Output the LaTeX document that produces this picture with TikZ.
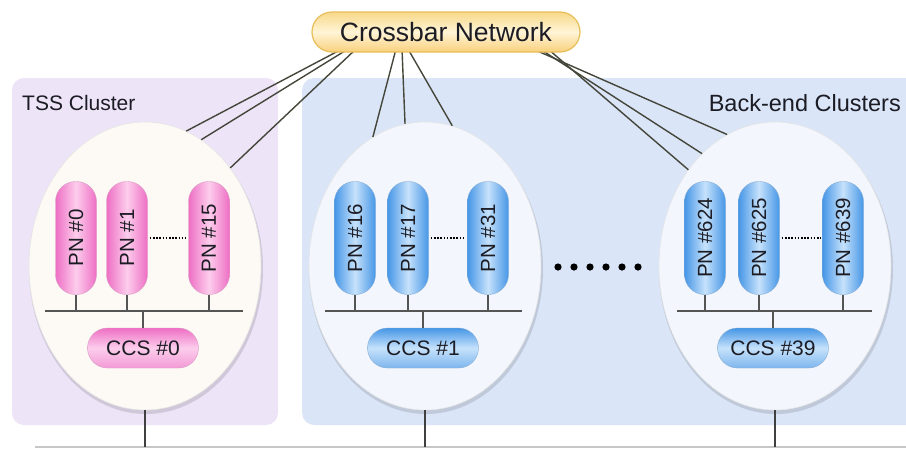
\documentclass[tikz,border=0pt]{standalone}
\usepackage{fontspec}
\setmainfont{Liberation Sans}
\usetikzlibrary{shapes.geometric,calc}
\definecolor{tssfill}{HTML}{EDE4F8}
\definecolor{befill}{HTML}{DAE5F8}
\definecolor{linecol}{HTML}{45463A}
\definecolor{buscol}{HTML}{555555}
\definecolor{txtcol}{HTML}{1C1C24}
\definecolor{pinkedge}{HTML}{EE6FC4}
\definecolor{pinkmid}{HTML}{FCCDEC}
\definecolor{blueedge}{HTML}{4696E6}
\definecolor{bluemid}{HTML}{C6E2FB}
\definecolor{goldedge}{HTML}{E8BE58}
\definecolor{goldtop}{HTML}{F8D98A}
\definecolor{goldmid}{HTML}{FFF4D6}
\definecolor{ellwarm}{HTML}{FDF9F4}
\definecolor{ellcool}{HTML}{F3F6FC}
\tikzset{
  clusterbox/.style={rectangle, rounded corners=12pt, inner sep=0pt, draw=none},
  clusterlabel/.style={text=txtcol, inner sep=0pt},
  cellipse/.style={ellipse, minimum width=232pt, minimum height=288pt, inner sep=0pt, draw=black!10, line width=0.6pt},
  cshadow/.style={ellipse, minimum width=234pt, minimum height=290pt, inner sep=0pt, fill=black, opacity=0.12, draw=none},
  pnpill/.style={rectangle, rounded corners=20pt, rotate=90, minimum width=113pt, minimum height=41pt, inner sep=0pt, text=txtcol, font=\fontsize{20.5pt}{22pt}\selectfont},
  pinkpn/.style={pnpill, left color=pinkedge, right color=pinkedge, middle color=pinkmid, draw=pinkedge!80!black!60},
  bluepn/.style={pnpill, left color=blueedge, right color=blueedge, middle color=bluemid, draw=blueedge!80!black!60},
  ccspill/.style={rectangle, rounded corners=20pt, minimum width=111pt, minimum height=40pt, inner sep=0pt, text=txtcol, font=\fontsize{21pt}{22pt}\selectfont},
  pinkccs/.style={ccspill, top color=pinkedge, bottom color=pinkedge!70, middle color=pinkmid, draw=pinkedge!80!black!60},
  blueccs/.style={ccspill, top color=blueedge, bottom color=blueedge!70, middle color=bluemid, draw=blueedge!80!black!60},
  xbar/.style={rectangle, rounded corners=20pt, minimum width=268pt, minimum height=40pt, inner sep=0pt, top color=goldtop, bottom color=goldtop!90!orange, middle color=goldmid, draw=goldedge, line width=1.2pt, text=txtcol, font=\fontsize{26.5pt}{28pt}\selectfont},
  xline/.style={draw=linecol, line width=1.4pt},
  busline/.style={draw=buscol, line width=1.2pt},
  downline/.style={draw=black!75, line width=1.4pt},
  dotline/.style={draw=black, line width=1.6pt, dash pattern=on 1.6pt off 1.6pt},
}
\begin{document}
\begin{tikzpicture}[x=1pt,y=-1pt]
\useasboundingbox[fill=white] (0,0) rectangle (906,448);
% cluster boxes
\node[clusterbox, fill=tssfill, minimum width=266pt, minimum height=347pt] (tss) at (145,251.5) {};
\node[clusterbox, fill=befill, minimum width=640pt, minimum height=347pt, anchor=west] (be) at (302,251.5) {};
\node[clusterlabel, anchor=west, font=\fontsize{21pt}{24pt}\selectfont] (tsslab) at (22,103) {TSS Cluster};
\node[clusterlabel, anchor=east, font=\fontsize{23.5pt}{26pt}\selectfont] (belab) at (901,103) {Back-end Clusters};
% bottom line
\coordinate (bl) at (35,447);
\coordinate (br) at (906,447);
\draw[draw=black!22, line width=2pt] (bl) -- (br);
% ellipses
\node[cshadow] (s1) at (146,269) {};
\node[cshadow] (s2) at (426,269) {};
\node[cshadow] (s3) at (776,269) {};
\node[cellipse, fill=ellwarm] (e1) at (145,266) {};
\node[cellipse, fill=ellcool] (e2) at (425,266) {};
\node[cellipse, fill=ellcool] (e3) at (775,266) {};
% crossbar links
\coordinate (cbs) at (446,49);
\draw[xline] ([xshift=-104pt]cbs) -- (e1.73);
\draw[xline] ([xshift=-98pt]cbs) -- (e1.66);
\draw[xline] ([xshift=-90pt]cbs) -- (e1.49);
\draw[xline] ([xshift=-50pt]cbs) -- (e2.112);
\draw[xline] ([xshift=-44pt]cbs) -- (e2.98);
\draw[xline] ([xshift=-38pt]cbs) -- (e2.79);
\draw[xline] ([xshift=87pt]cbs) -- (e3.110);
\draw[xline] ([xshift=94pt]cbs) -- (e3.123);
\draw[xline] ([xshift=102pt]cbs) -- (e3.132);
\node[xbar] (cb) at (446,32) {Crossbar Network};
% down lines
\draw[downline] (e1.south) -- (e1.south |- bl);
\draw[downline] (e2.south) -- (e2.south |- bl);
\draw[downline] (e3.south) -- (e3.south |- bl);
% buses
\coordinate (b1l) at (45,311); \coordinate (b1r) at (243,311);
\coordinate (b2l) at (325,311); \coordinate (b2r) at (522,311);
\coordinate (b3l) at (677,311); \coordinate (b3r) at (872,311);
\draw[busline] (b1l) -- (b1r);
\draw[busline] (b2l) -- (b2r);
\draw[busline] (b3l) -- (b3r);
% cluster 1
\node[pinkpn] (p0) at (76,238) {PN \#0};
\node[pinkpn] (p1) at (127,238) {PN \#1};
\node[pinkpn] (p15) at (209,238) {PN \#15};
\node[pinkccs] (c0) at (143,348) {CCS \#0};
% cluster 2
\node[bluepn] (p16) at (355,238) {PN \#16};
\node[bluepn] (p17) at (408,238) {PN \#17};
\node[bluepn] (p31) at (488,238) {PN \#31};
\node[blueccs] (c1) at (423,348) {CCS \#1};
% cluster 3
\node[bluepn] (p624) at (705,238) {PN \#624};
\node[bluepn] (p625) at (759,238) {PN \#625};
\node[bluepn] (p639) at (843,238) {PN \#639};
\node[blueccs] (c39) at (773,348) {CCS \#39};
% stubs
\foreach \p/\b in {p0/b1l,p1/b1l,p15/b1l,p16/b2l,p17/b2l,p31/b2l,p624/b3l,p625/b3l,p639/b3l}{
  \draw[busline] (\p.west) -- (\p.west |- \b);
}
\foreach \c/\b in {c0/b1l,c1/b2l,c39/b3l}{
  \draw[busline] (\c.north) -- (\c.north |- \b);
}
% dotted gaps
\draw[dotline, shorten <=2pt, shorten >=2pt] (p1.south) -- (p15.north);
\draw[dotline, shorten <=2pt, shorten >=2pt] (p17.south) -- (p31.north);
\draw[dotline, shorten <=2pt, shorten >=2pt] (p625.south) -- (p639.north);
% big dots
\foreach \i in {0,...,5}{
  \fill[black] (558+16*\i,267) circle (3.6pt);
}
\end{tikzpicture}
\end{document}
